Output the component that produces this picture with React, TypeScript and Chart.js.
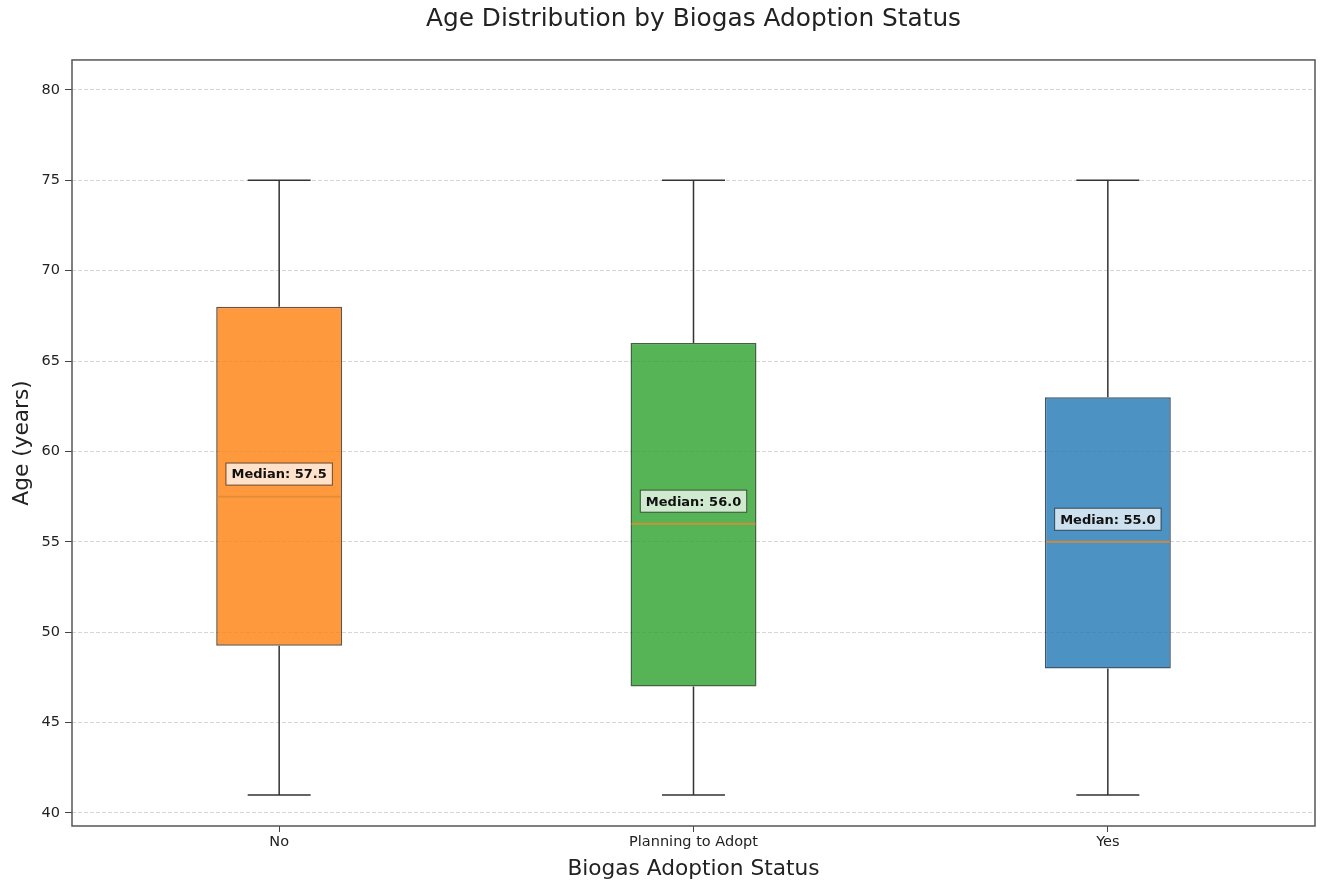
import React, { useEffect, useRef } from "react";
import { Chart, registerables } from "chart.js";

Chart.register(...registerables);

// ---- Data ----
const categories: string[] = ["No", "Planning to Adopt", "Yes"];
const whiskerLow: number[] = [41, 41, 41];
const q1Values: number[] = [49.25, 47, 48];
const medianValues: number[] = [57.5, 56.0, 55.0];
const q3Values: number[] = [68, 66, 63];
const whiskerHigh: number[] = [75, 75, 75];
const yTickValues: number[] = [40, 45, 50, 55, 60, 65, 70, 75, 80];

const fillColors = ["rgba(255,127,14,0.8)", "rgba(44,160,44,0.8)", "rgba(31,119,180,0.8)"];
const edgeColors = ["rgba(70,40,15,0.8)", "rgba(20,60,20,0.8)", "rgba(15,45,75,0.8)"];
const FONT = "'DejaVu Sans', sans-serif";

const boxPartsPlugin = {
  id: "boxParts",
  beforeDatasetsDraw(chart: any) {
    const ctx = chart.ctx;
    const ys = chart.scales.y;
    const meta = chart.getDatasetMeta(0);
    ctx.save();
    ctx.strokeStyle = "#333";
    ctx.lineWidth = 1.5;
    meta.data.forEach((el: any, i: number) => {
      const x = el.x;
      const half = el.width / 4;
      const yLo = ys.getPixelForValue(whiskerLow[i]);
      const yHi = ys.getPixelForValue(whiskerHigh[i]);
      const yQ1 = ys.getPixelForValue(q1Values[i]);
      const yQ3 = ys.getPixelForValue(q3Values[i]);
      ctx.beginPath();
      ctx.moveTo(x, yQ3);
      ctx.lineTo(x, yHi);
      ctx.moveTo(x, yQ1);
      ctx.lineTo(x, yLo);
      ctx.moveTo(x - half, yHi);
      ctx.lineTo(x + half, yHi);
      ctx.moveTo(x - half, yLo);
      ctx.lineTo(x + half, yLo);
      ctx.stroke();
    });
    ctx.restore();
  },
  afterDatasetsDraw(chart: any) {
    const ctx = chart.ctx;
    const ys = chart.scales.y;
    const meta = chart.getDatasetMeta(0);
    ctx.save();
    meta.data.forEach((el: any, i: number) => {
      const x = el.x;
      const half = el.width / 2;
      const yM = ys.getPixelForValue(medianValues[i]);
      ctx.strokeStyle = "rgba(225,140,50,0.85)";
      ctx.lineWidth = 2;
      ctx.beginPath();
      ctx.moveTo(x - half + 1, yM);
      ctx.lineTo(x + half - 1, yM);
      ctx.stroke();
    });
    meta.data.forEach((el: any, i: number) => {
      const x = el.x;
      const yL = ys.getPixelForValue(medianValues[i] + 1.25);
      const text = `Median: ${medianValues[i].toFixed(1)}`;
      ctx.font = `bold 13px ${FONT}`;
      const w = ctx.measureText(text).width + 11;
      const h = 22;
      ctx.fillStyle = "rgba(255,255,255,0.72)";
      ctx.fillRect(x - w / 2, yL - h / 2, w, h);
      ctx.strokeStyle = "rgba(0,0,0,0.6)";
      ctx.lineWidth = 1;
      ctx.strokeRect(x - w / 2, yL - h / 2, w, h);
      ctx.fillStyle = "#111";
      ctx.textAlign = "center";
      ctx.textBaseline = "middle";
      ctx.fillText(text, x, yL + 1);
    });
    ctx.restore();
  },
  afterDraw(chart: any) {
    const { ctx, chartArea } = chart;
    ctx.save();
    ctx.strokeStyle = "#555";
    ctx.lineWidth = 1.5;
    ctx.strokeRect(chartArea.left, chartArea.top, chartArea.right - chartArea.left, chartArea.bottom - chartArea.top);
    ctx.restore();
  },
};

export default function App() {
  const canvasRef = useRef<HTMLCanvasElement | null>(null);

  useEffect(() => {
    if (!canvasRef.current) return;
    const chart = new Chart(canvasRef.current, {
      type: "bar",
      data: {
        labels: categories,
        datasets: [
          {
            label: "Age",
            data: q1Values.map((q, i) => [q, q3Values[i]]),
            backgroundColor: fillColors,
            borderColor: edgeColors,
            borderWidth: 1.5,
            borderSkipped: false,
            barPercentage: 0.304,
            categoryPercentage: 1,
          },
        ],
      },
      options: {
        animation: false,
        responsive: true,
        maintainAspectRatio: false,
        font: { family: FONT },
        layout: { padding: { left: 0, right: 9, top: 0, bottom: 0 } },
        plugins: {
          legend: { display: false },
          tooltip: { enabled: false },
          title: {
            display: true,
            text: "Age Distribution by Biogas Adoption Status",
            fullSize: false,
            color: "#222",
            font: { family: FONT, size: 24.8, weight: "normal" },
            padding: { top: 5, bottom: 25.2 },
          },
        },
        scales: {
          x: {
            type: "category",
            offset: true,
            afterFit(scale: any) {
              scale.height = 56;
            },
            grid: {
              display: true,
              offset: false,
              color: "rgba(0,0,0,0)",
              drawTicks: true,
              tickLength: 6,
              tickColor: "#444",
              tickWidth: 1,
            },
            border: { display: false },
            ticks: {
              color: "#222",
              padding: 2,
              font: { family: FONT, size: 14.5 },
            },
            title: {
              display: true,
              text: "Biogas Adoption Status",
              color: "#222",
              font: { family: FONT, size: 21.7 },
              padding: { top: 0, bottom: 0 },
            },
          },
          y: {
            type: "linear",
            min: 39.28,
            max: 81.66,
            afterFit(scale: any) {
              scale.width = 72;
            },
            afterBuildTicks(scale: any) {
              scale.ticks = yTickValues.map((v) => ({ value: v }));
            },
            grid: {
              color: "rgba(0,0,0,0.16)",
              lineWidth: 1,
              drawTicks: true,
              tickLength: 7,
              tickColor: "#444",
              tickWidth: 1,
              tickBorderDash: [],
            },
            border: { display: false, dash: [4, 2] },
            ticks: {
              color: "#222",
              padding: 5,
              font: { family: FONT, size: 14.5 },
            },
            title: {
              display: true,
              text: "Age (years)",
              color: "#222",
              font: { family: FONT, size: 21.7 },
              padding: { top: 9, bottom: 0 },
            },
          },
        },
      },
      plugins: [boxPartsPlugin],
    } as any);
    return () => chart.destroy();
  }, []);

  return (
    <div style={{ position: "absolute", left: 0, top: 0, width: 1324, height: 882, background: "#fff" }}>
      <canvas ref={canvasRef} />
    </div>
  );
}
